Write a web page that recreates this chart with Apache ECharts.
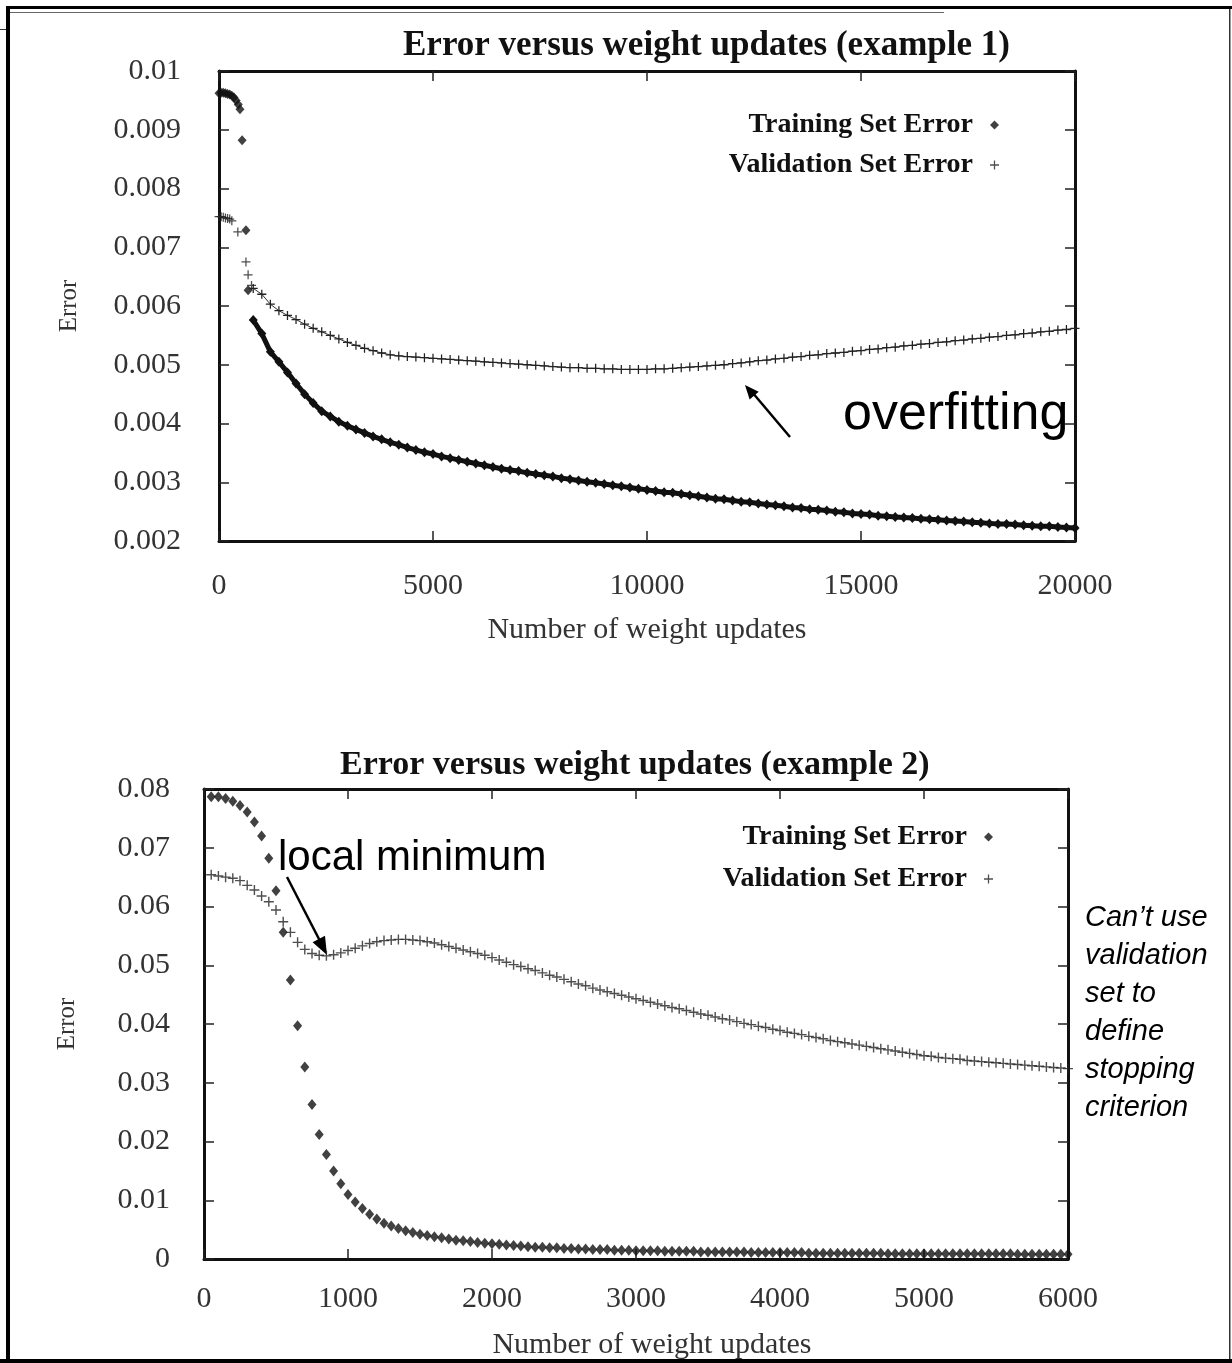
<!DOCTYPE html>
<html>
<head>
<meta charset="utf-8">
<script src="https://cdn.jsdelivr.net/npm/echarts@6/dist/echarts.min.js"></script>
<style>html,body{margin:0;padding:0;background:#fff}#c{width:1232px;height:1363px}</style>
</head>
<body>
<div id="c"></div>
<script>
// ---------- Example 1 (top chart) ----------
const ex1Title = 'Error versus weight updates (example 1)';
const ex1XTicks = { min: 0, max: 20000, interval: 5000 };
const ex1YTicks = { min: 0.002, max: 0.01, interval: 0.001 };
// early, irregular readings [updates, error]
const ex1TrainHead = [[0,0.00962],[50,0.00963],[100,0.00963],[150,0.00962],[200,0.00961],[250,0.0096],[300,0.00958],[350,0.00955],[400,0.0095],[450,0.00943],[490,0.00935],[540,0.00882],[630,0.00729],[680,0.00627]];
const ex1ValHead = [[0,0.00752],[50,0.00752],[100,0.00751],[150,0.0075],[200,0.00749],[250,0.00748],[300,0.00745],[440,0.00726],[630,0.00675],[680,0.00653],[760,0.00635]];
// regular readings from 800 to 20000 updates, every 200 updates
const ex1Start = 800, ex1Step = 200;
const ex1Train = [
0.00576,0.00553,0.00522,0.00505,0.00487,0.00468,0.00450,0.00435,0.00421,0.00412,
0.00403,0.00396,0.00390,0.00384,0.00378,0.00373,0.00368,0.00364,0.00359,0.00355,
0.00351,0.00348,0.00344,0.00341,0.00338,0.00335,0.00332,0.00329,0.00326,0.00323,
0.00321,0.00319,0.00316,0.00314,0.00312,0.00310,0.00307,0.00305,0.00303,0.00301,
0.00299,0.00297,0.00295,0.00293,0.00291,0.00289,0.00287,0.00285,0.00283,0.00282,
0.00280,0.00278,0.00276,0.00274,0.00272,0.00271,0.00269,0.00267,0.00266,0.00264,
0.00262,0.00261,0.00259,0.00257,0.00256,0.00254,0.00253,0.00252,0.00250,0.00249,
0.00247,0.00246,0.00245,0.00243,0.00242,0.00241,0.00240,0.00239,0.00238,0.00237,
0.00236,0.00235,0.00234,0.00233,0.00232,0.00231,0.00230,0.00229,0.00229,0.00228,
0.00227,0.00226,0.00225,0.00225,0.00224,0.00223,0.00222];
const ex1Val = [
0.00630,0.00620,0.00603,0.00592,0.00584,0.00577,0.00569,0.00562,0.00556,0.00550,
0.00544,0.00538,0.00533,0.00528,0.00524,0.00520,0.00517,0.00515,0.00514,0.00513,
0.00512,0.00511,0.00510,0.00509,0.00508,0.00507,0.00506,0.00505,0.00504,0.00503,
0.00502,0.00501,0.00500,0.00499,0.00498,0.00497,0.00496,0.00495,0.00495,0.00494,
0.00494,0.00493,0.00493,0.00492,0.00492,0.00492,0.00492,0.00493,0.00493,0.00494,
0.00495,0.00496,0.00497,0.00498,0.00499,0.00500,0.00502,0.00503,0.00505,0.00507,
0.00508,0.00510,0.00511,0.00513,0.00514,0.00516,0.00517,0.00519,0.00520,0.00521,
0.00523,0.00524,0.00526,0.00527,0.00529,0.00530,0.00532,0.00533,0.00535,0.00536,
0.00538,0.00539,0.00541,0.00542,0.00544,0.00545,0.00547,0.00548,0.00550,0.00551,
0.00553,0.00554,0.00556,0.00557,0.00559,0.00560,0.00562];

// ---------- Example 2 (bottom chart) ----------
const ex2Title = 'Error versus weight updates (example 2)';
const ex2XTicks = { min: 0, max: 6000, interval: 1000 };
const ex2YTicks = { min: 0, max: 0.08, interval: 0.01 };
// readings every 50 updates, from 50 to 6000
const ex2Start = 50, ex2Step = 50;
const ex2Train = [
0.0787,0.0787,0.0784,0.0779,0.0772,0.0761,0.0744,0.0720,0.0682,0.0627,
0.0556,0.0475,0.0397,0.0327,0.0263,0.0212,0.0178,0.0150,0.0128,0.0110,
0.0097,0.0086,0.0076,0.0068,0.0061,0.0056,0.0052,0.0048,0.0045,0.0042,
0.0040,0.0038,0.0036,0.0034,0.0032,0.0031,0.0030,0.0028,0.0027,0.0026,
0.0025,0.0024,0.0023,0.0022,0.0021,0.0020,0.0020,0.0019,0.0019,0.0018,
0.0018,0.0017,0.0017,0.0016,0.0016,0.0016,0.0015,0.0015,0.0015,0.0014,
0.0014,0.0014,0.0014,0.0013,0.0013,0.0013,0.0013,0.0013,0.0012,0.0012,
0.0012,0.0012,0.0012,0.0012,0.0012,0.0011,0.0011,0.0011,0.0011,0.0011,
0.0011,0.0011,0.0011,0.0010,0.0010,0.0010,0.0010,0.0010,0.0010,0.0010,
0.0010,0.0010,0.0010,0.0010,0.0009,0.0009,0.0009,0.0009,0.0009,0.0009,
0.0009,0.0009,0.0009,0.0009,0.0009,0.0009,0.0009,0.0009,0.0009,0.0009,
0.0009,0.0009,0.0008,0.0008,0.0008,0.0008,0.0008,0.0008,0.0008,0.0008];
const ex2Val = [
0.0654,0.0652,0.0650,0.0648,0.0644,0.0636,0.0628,0.0618,0.0608,0.0594,
0.0574,0.0556,0.0539,0.0527,0.0520,0.0517,0.0516,0.0518,0.0521,0.0525,
0.0529,0.0533,0.0537,0.0540,0.0542,0.0543,0.0544,0.0544,0.0543,0.0542,
0.0540,0.0538,0.0535,0.0532,0.0529,0.0526,0.0523,0.0520,0.0517,0.0513,
0.0509,0.0505,0.0501,0.0498,0.0494,0.0491,0.0487,0.0483,0.0480,0.0476,
0.0472,0.0468,0.0465,0.0461,0.0458,0.0455,0.0452,0.0449,0.0446,0.0443,
0.0440,0.0437,0.0434,0.0431,0.0428,0.0426,0.0423,0.0420,0.0417,0.0415,
0.0412,0.0409,0.0407,0.0404,0.0401,0.0399,0.0396,0.0394,0.0391,0.0389,
0.0386,0.0384,0.0382,0.0379,0.0377,0.0375,0.0372,0.0370,0.0368,0.0366,
0.0364,0.0362,0.0360,0.0358,0.0356,0.0354,0.0352,0.0350,0.0348,0.0346,
0.0345,0.0343,0.0342,0.0341,0.0340,0.0338,0.0337,0.0336,0.0335,0.0334,
0.0333,0.0332,0.0331,0.0330,0.0329,0.0328,0.0327,0.0326,0.0325,0.0324];

const seriesNames = ['Training Set Error', 'Validation Set Error'];
const xName = 'Number of weight updates';
const yName = 'Error';

// ---------- build ----------
const pair = (start, step, ys) => ys.map((y, i) => [start + i * step, y]);
const PLUS = 'path://M4.3,0H5.7V10H4.3Z M0,4.3H10V5.7H0Z';
const SERIF = '"Liberation Serif", "DejaVu Serif", serif';
const SANS = '"Liberation Sans", Arial, sans-serif';

function xAx(grid, t, pos, showLbl, margin, nameGap, namePad) {
  return {
    type: 'value', gridIndex: grid, position: pos, min: t.min, max: t.max, interval: t.interval,
    splitLine: { show: false },
    axisLine: { show: true, onZero: false, lineStyle: { color: '#111', width: 3 } },
    axisTick: { show: true, inside: true, length: 10, lineStyle: { color: '#222', width: 1.5 } },
    axisLabel: { show: showLbl, margin: margin, fontFamily: SERIF, fontSize: 30, color: '#333',
      formatter: v => String(v) },
    name: showLbl ? xName : '', nameLocation: 'middle', nameGap: nameGap,
    nameTextStyle: { fontFamily: SERIF, fontSize: 30, color: '#333', padding: namePad || 0 }
  };
}
function yAx(grid, t, pos, showLbl, margin, nameGap, dec) {
  return {
    type: 'value', gridIndex: grid, position: pos, min: t.min, max: t.max, interval: t.interval,
    splitLine: { show: false },
    axisLine: { show: true, onZero: false, lineStyle: { color: '#111', width: 3 } },
    axisTick: { show: true, inside: true, length: 10, lineStyle: { color: '#222', width: 1.5 } },
    axisLabel: { show: showLbl, margin: margin, fontFamily: SERIF, fontSize: 30, color: '#333',
      formatter: v => String(+(+v).toFixed(dec)) },
    name: showLbl ? yName : '', nameLocation: 'middle', nameGap: nameGap, nameRotate: 90,
    nameTextStyle: { fontFamily: SERIF, fontSize: 25, color: '#333' }
  };
}
function legendItem(name, icon, right, top, size) {
  return {
    data: [{ name: name, icon: icon }], right: right, top: top, orient: 'vertical', align: 'right',
    itemWidth: size, itemHeight: size, selectedMode: false,
    textStyle: { fontFamily: SERIF, fontWeight: 'bold', fontSize: 28, color: '#111', padding: [0, 12, 0, 0] }
  };
}

const option = {
  backgroundColor: '#fff',
  animation: false,
  title: [
    { text: ex1Title, left: 398, top: 23, padding: 5,
      textStyle: { fontFamily: SERIF, fontWeight: 'bold', fontSize: 35, color: '#111' } },
    { text: ex2Title, left: 335, top: 743, padding: 5,
      textStyle: { fontFamily: SERIF, fontWeight: 'bold', fontSize: 34, color: '#111' } }
  ],
  legend: [
    legendItem(seriesNames[0], 'diamond', 228, 106, 9),
    legendItem(seriesNames[1], PLUS, 228, 146, 9),
    legendItem(seriesNames[0], 'diamond', 234, 818, 9),
    legendItem(seriesNames[1], PLUS, 234, 860, 9)
  ],
  grid: [
    { left: 219, top: 71, width: 856, height: 470 },
    { left: 204, top: 789, width: 864, height: 470 }
  ],
  xAxis: [
    xAx(0, ex1XTicks, 'bottom', true, 30, 74),
    xAx(0, ex1XTicks, 'top', false, 0, 0),
    xAx(1, ex2XTicks, 'bottom', true, 25, 71, [0, 0, 0, 32]),
    xAx(1, ex2XTicks, 'top', false, 0, 0)
  ],
  yAxis: [
    yAx(0, ex1YTicks, 'left', true, 38, 137, 3),
    yAx(0, ex1YTicks, 'right', false, 0, 0, 3),
    yAx(1, ex2YTicks, 'left', true, 34, 124, 2),
    yAx(1, ex2YTicks, 'right', false, 0, 0, 2)
  ],
  series: [
    { name: seriesNames[0], type: 'scatter', xAxisIndex: 0, yAxisIndex: 0, data: ex1TrainHead,
      symbol: 'diamond', symbolSize: [9, 10], itemStyle: { color: '#111' } },
    { name: seriesNames[0], type: 'line', xAxisIndex: 0, yAxisIndex: 0, data: pair(ex1Start, ex1Step, ex1Train),
      symbol: 'diamond', symbolSize: [9, 10], showAllSymbol: true, lineStyle: { color: '#111', width: 5 },
      itemStyle: { color: '#111' } },
    { name: seriesNames[1], type: 'scatter', xAxisIndex: 0, yAxisIndex: 0, data: ex1ValHead,
      symbol: PLUS, symbolSize: 9, itemStyle: { color: '#222' } },
    { name: seriesNames[1], type: 'line', xAxisIndex: 0, yAxisIndex: 0, data: pair(ex1Start, ex1Step, ex1Val),
      symbol: PLUS, symbolSize: 9, showAllSymbol: true, lineStyle: { color: '#333', width: 1 },
      itemStyle: { color: '#222' } },
    { name: seriesNames[0], type: 'scatter', xAxisIndex: 2, yAxisIndex: 2, data: pair(ex2Start, ex2Step, ex2Train),
      symbol: 'diamond', symbolSize: [9, 11], itemStyle: { color: '#111' } },
    { name: seriesNames[1], type: 'scatter', xAxisIndex: 2, yAxisIndex: 2, data: pair(ex2Start, ex2Step, ex2Val),
      symbol: PLUS, symbolSize: 10, itemStyle: { color: '#222' } }
  ],
  graphic: [
    // page frame
    { type: 'rect', shape: { x: 6, y: 6, width: 1226, height: 3 }, style: { fill: '#000' } },
    { type: 'rect', shape: { x: 6, y: 6, width: 4, height: 1357 }, style: { fill: '#000' } },
    { type: 'rect', shape: { x: 0, y: 1359, width: 1232, height: 4 }, style: { fill: '#000' } },
    { type: 'rect', shape: { x: 1229, y: 9, width: 1.5, height: 1350 }, style: { fill: '#333' } },
    { type: 'line', shape: { x1: 10, y1: 12.5, x2: 944, y2: 12.5 }, style: { stroke: '#666', lineWidth: 1 } },
    { type: 'line', shape: { x1: 0, y1: 29.5, x2: 6, y2: 29.5 }, style: { stroke: '#333', lineWidth: 1 } },
    // annotations
    { type: 'text', x: 843, y: 415, style: { text: 'overfitting', font: '52px ' + SANS, fill: '#000', verticalAlign: 'middle' } },
    { type: 'line', shape: { x1: 790, y1: 437, x2: 752, y2: 392 }, style: { stroke: '#000', lineWidth: 2.5 } },
    { type: 'polygon', shape: { points: [[745, 385], [758.7, 391.7], [749.6, 399.5]] }, style: { fill: '#000' } },
    { type: 'text', x: 278, y: 858, style: { text: 'local minimum', font: '42px ' + SANS, fill: '#000', verticalAlign: 'middle' } },
    { type: 'line', shape: { x1: 287, y1: 877, x2: 320, y2: 941 }, style: { stroke: '#000', lineWidth: 2.5 } },
    { type: 'polygon', shape: { points: [[327, 955], [325.0, 935.8], [312.6, 942.2]] }, style: { fill: '#000' } },
    { type: 'text', x: 1085, y: 1013, style: { text: 'Can\u2019t use\nvalidation\nset to\ndefine\nstopping\ncriterion',
      font: 'italic 29px ' + SANS, lineHeight: 38, fill: '#000', verticalAlign: 'middle' } }
  ]
};
const chart = echarts.init(document.getElementById('c'), null, { renderer: 'canvas' });
chart.setOption(option);
</script>
</body>
</html>
